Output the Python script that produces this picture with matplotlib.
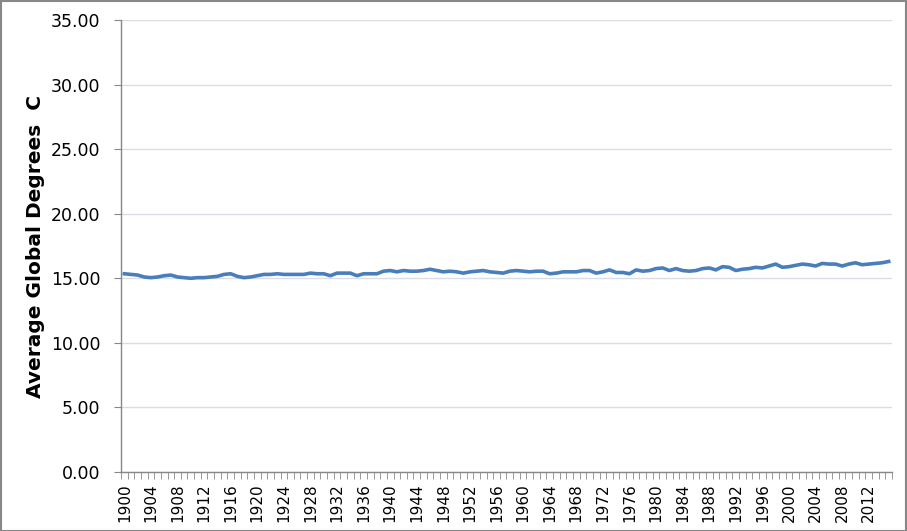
import matplotlib
matplotlib.use("Agg")
import matplotlib.pyplot as plt
from matplotlib.patches import Rectangle

years = list(range(1900, 2016))
temps = [15.35, 15.30, 15.25, 15.10, 15.05, 15.10, 15.20, 15.25, 15.10, 15.05,
         15.00, 15.05, 15.05, 15.10, 15.15, 15.30, 15.35, 15.15, 15.05, 15.10,
         15.20, 15.30, 15.30, 15.35, 15.30, 15.30, 15.30, 15.30, 15.40, 15.35,
         15.35, 15.20, 15.40, 15.40, 15.40, 15.20, 15.35, 15.35, 15.35, 15.55,
         15.60, 15.50, 15.60, 15.55, 15.55, 15.60, 15.70, 15.60, 15.50, 15.55,
         15.50, 15.40, 15.50, 15.55, 15.60, 15.50, 15.45, 15.40, 15.55, 15.60,
         15.55, 15.50, 15.55, 15.55, 15.35, 15.40, 15.50, 15.50, 15.50, 15.60,
         15.60, 15.40, 15.50, 15.65, 15.45, 15.45, 15.35, 15.65, 15.55, 15.60,
         15.75, 15.80, 15.60, 15.75, 15.60, 15.55, 15.60, 15.75, 15.80, 15.65,
         15.90, 15.85, 15.60, 15.70, 15.75, 15.85, 15.80, 15.95, 16.10, 15.85,
         15.90, 16.00, 16.10, 16.05, 15.95, 16.15, 16.10, 16.10, 15.95, 16.10,
         16.20, 16.05, 16.10, 16.15, 16.20, 16.30]
y_ticks = [0, 5, 10, 15, 20, 25, 30, 35]
y_label = "Average Global Degrees  C"

W, H = 907, 531
fig = plt.figure(figsize=(W / 100, H / 100), dpi=100)
fig.patches.append(Rectangle((0.5 / W, 0.5 / H), 1 - 1.5 / W, 1 - 1.5 / H,
                             transform=fig.transFigure, fill=False,
                             edgecolor="#878787", linewidth=1.5))

left, right, top, bottom = 121, 892, 20, 472
ax = fig.add_axes([left / W, 1 - bottom / H, (right - left) / W, (bottom - top) / H])

x = list(range(len(years)))
ax.plot(x, temps, color="#4A7EBB", linewidth=2.6, solid_joinstyle="round")

ax.set_xlim(-0.5, len(years) - 0.5)
ax.set_ylim(0, 35)
ax.set_yticks(y_ticks)
ax.set_yticklabels([f"{v:.2f}" for v in y_ticks], fontsize=12.5)
ax.yaxis.grid(True, color="#D9DEE6", linewidth=1)
ax.set_axisbelow(True)

major = [i for i, yr in enumerate(years) if (yr - 1900) % 4 == 0]
ax.set_xticks(major)
ax.set_xticklabels([str(years[i]) for i in major], rotation=90, fontsize=11)
ax.set_xticks([i - 0.5 for i in range(len(years) + 1)], minor=True)
ax.tick_params(axis="x", which="major", length=0, pad=8)
ax.tick_params(axis="x", which="minor", length=5, color="#878787", direction="out")
ax.tick_params(axis="y", which="major", length=5, color="#878787", pad=10)

for s in ["top", "right"]:
    ax.spines[s].set_visible(False)
for s in ["left", "bottom"]:
    ax.spines[s].set_color("#878787")
    ax.spines[s].set_linewidth(1)

ax.set_ylabel(y_label, fontsize=14.5, fontweight="bold", labelpad=4)

fig.savefig("out.png", dpi=100)
